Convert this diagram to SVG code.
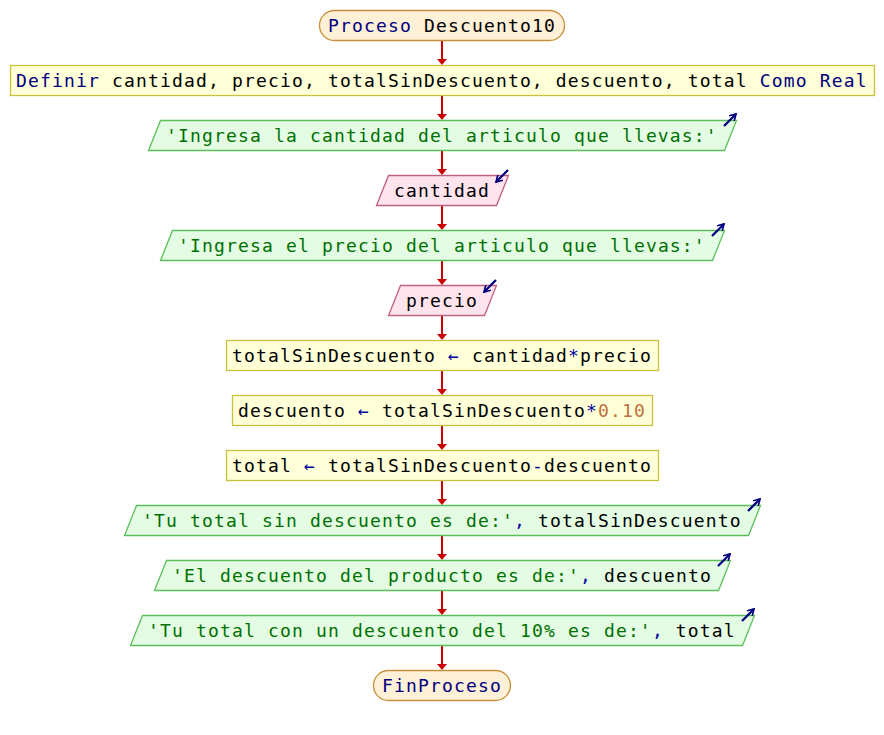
<svg xmlns="http://www.w3.org/2000/svg" width="884" height="735" viewBox="0 0 884 735">
<defs>
<style>
text{font-family:"DejaVu Sans Mono","Liberation Mono",monospace;font-size:18px;letter-spacing:1.16px;fill:#000}
.k{fill:#000080}
.s{fill:#007000}
.n{fill:#c07040}
.o{fill:#0000a0}
.term{fill:#fff0d8;stroke:#c8903a;stroke-width:1.3}
.proc{fill:#ffffd8;stroke:#c8c040;stroke-width:1.3}
.out{fill:#e4fce4;stroke:#5cbf5c;stroke-width:1.3}
.inp{fill:#ffe4ee;stroke:#c06080;stroke-width:1.3}
.flow line{stroke:#cc0000;stroke-width:2}
.flow polygon{fill:#cc0000}
.ico{stroke:#000080;stroke-width:2.3;fill:none;marker-end:url(#ah)}
</style>
<marker id="ah" viewBox="0 0 10 10" refX="8.5" refY="5" markerWidth="3.6" markerHeight="3.6" orient="auto" markerUnits="strokeWidth">
<polyline points="1,0.5 8.5,5 1,9.5" fill="none" stroke="#000080" stroke-width="2"/>
</marker>
</defs>
<rect width="884" height="735" fill="#fff"/>
<g id="connectors" class="flow">
<line x1="442" y1="41" x2="442" y2="60"/><polygon points="437,59 447,59 442,65"/>
<line x1="442" y1="96" x2="442" y2="115"/><polygon points="437,114 447,114 442,120"/>
<line x1="442" y1="151" x2="442" y2="170"/><polygon points="437,169 447,169 442,175"/>
<line x1="442" y1="206" x2="442" y2="225"/><polygon points="437,224 447,224 442,230"/>
<line x1="442" y1="261" x2="442" y2="280"/><polygon points="437,279 447,279 442,285"/>
<line x1="442" y1="316" x2="442" y2="335"/><polygon points="437,334 447,334 442,340"/>
<line x1="442" y1="371" x2="442" y2="390"/><polygon points="437,389 447,389 442,395"/>
<line x1="442" y1="426" x2="442" y2="445"/><polygon points="437,444 447,444 442,450"/>
<line x1="442" y1="481" x2="442" y2="500"/><polygon points="437,499 447,499 442,505"/>
<line x1="442" y1="536" x2="442" y2="555"/><polygon points="437,554 447,554 442,560"/>
<line x1="442" y1="591" x2="442" y2="610"/><polygon points="437,609 447,609 442,615"/>
<line x1="442" y1="646" x2="442" y2="665"/><polygon points="437,664 447,664 442,670"/>
</g>
<g id="start">
<rect class="term" x="319.5" y="10.5" width="245" height="30" rx="15"/>
<text x="328" y="32"><tspan class="k">Proceso</tspan> Descuento10</text>
</g>
<g id="definir">
<rect class="proc" x="10.5" y="65.5" width="864" height="30"/>
<text x="16" y="87"><tspan class="k">Definir</tspan> cantidad, precio, totalSinDescuento, descuento, total <tspan class="k">Como Real</tspan></text>
</g>
<g id="out1">
<polygon class="out" points="160.5,120.5 736.5,120.5 724.5,150.5 148.5,150.5"/>
<text x="166" y="142" class="s">'Ingresa la cantidad del articulo que llevas:'</text>
<line class="ico" x1="724" y1="126" x2="736" y2="114"/>
</g>
<g id="in1">
<polygon class="inp" points="388.5,175.5 508.5,175.5 496.5,205.5 376.5,205.5"/>
<text x="394" y="197">cantidad</text>
<line class="ico" x1="508" y1="170" x2="496" y2="182"/>
</g>
<g id="out2">
<polygon class="out" points="172.5,230.5 724.5,230.5 712.5,260.5 160.5,260.5"/>
<text x="178" y="252" class="s">'Ingresa el precio del articulo que llevas:'</text>
<line class="ico" x1="712" y1="236" x2="724" y2="224"/>
</g>
<g id="in2">
<polygon class="inp" points="400.5,285.5 496.5,285.5 484.5,315.5 388.5,315.5"/>
<text x="406" y="307">precio</text>
<line class="ico" x1="496" y1="280" x2="484" y2="292"/>
</g>
<g id="asig1">
<rect class="proc" x="226.5" y="340.5" width="432" height="30"/>
<text x="232" y="362">totalSinDescuento <tspan class="o">←</tspan> cantidad<tspan class="o">*</tspan>precio</text>
</g>
<g id="asig2">
<rect class="proc" x="232.5" y="395.5" width="420" height="30"/>
<text x="238" y="417">descuento <tspan class="o">←</tspan> totalSinDescuento<tspan class="o">*</tspan><tspan class="n">0.10</tspan></text>
</g>
<g id="asig3">
<rect class="proc" x="226.5" y="450.5" width="432" height="30"/>
<text x="232" y="472">total <tspan class="o">←</tspan> totalSinDescuento<tspan class="o">-</tspan>descuento</text>
</g>
<g id="out3">
<polygon class="out" points="136.5,505.5 760.5,505.5 748.5,535.5 124.5,535.5"/>
<text x="142" y="527"><tspan class="s">'Tu total sin descuento es de:'</tspan><tspan class="o">,</tspan> totalSinDescuento</text>
<line class="ico" x1="748" y1="511" x2="760" y2="499"/>
</g>
<g id="out4">
<polygon class="out" points="166.5,560.5 730.5,560.5 718.5,590.5 154.5,590.5"/>
<text x="172" y="582"><tspan class="s">'El descuento del producto es de:'</tspan><tspan class="o">,</tspan> descuento</text>
<line class="ico" x1="718" y1="566" x2="730" y2="554"/>
</g>
<g id="out5">
<polygon class="out" points="142.5,615.5 754.5,615.5 742.5,645.5 130.5,645.5"/>
<text x="148" y="637"><tspan class="s">'Tu total con un descuento del 10% es de:'</tspan><tspan class="o">,</tspan> total</text>
<line class="ico" x1="742" y1="621" x2="754" y2="609"/>
</g>
<g id="end">
<rect class="term" x="373.5" y="670.5" width="137" height="30" rx="15"/>
<text x="382" y="692" class="k">FinProceso</text>
</g>
</svg>
